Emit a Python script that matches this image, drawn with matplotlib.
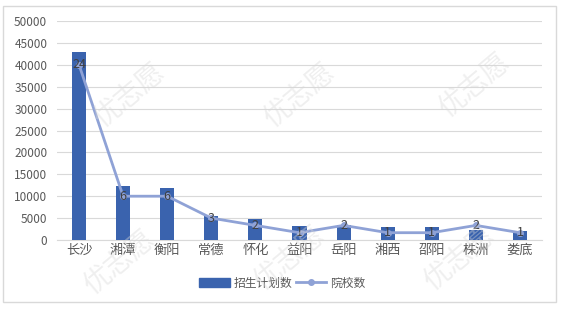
import matplotlib.pyplot as plt
from matplotlib.patches import Rectangle
from matplotlib.lines import Line2D
import numpy as np

plt.rcParams['font.family'] = ['Noto Sans CJK SC', 'DejaVu Sans']

cities = ['长沙', '湘潭', '衡阳', '常德', '怀化', '益阳', '岳阳', '湘西', '邵阳', '株洲', '娄底']
plan = [43000, 12300, 11900, 5500, 4800, 3200, 3500, 2900, 2900, 2300, 2000]
schools = [24, 6, 6, 3, 2, 1, 2, 1, 1, 2, 1]

W, H = 568, 313
fig = plt.figure(figsize=(W / 100, H / 100), dpi=100)

# outer frame
fig.patches.append(Rectangle((3 / W, (H - 302) / H), 553 / W, 296 / H,
                             transform=fig.transFigure, fill=False,
                             edgecolor='#D9D9D9', linewidth=1))

# faint watermark
for (wx, wy) in [(130, 95), (300, 95), (475, 85), (120, 262), (290, 258), (460, 258)]:
    fig.text(wx / W, 1 - wy / H, '优志愿', rotation=40, fontsize=20,
             color='#D8D8D8', alpha=0.4, ha='center', va='center', zorder=10)

ax = fig.add_axes([57 / W, 1 - 240 / H, 485 / W, 219 / H])
ax.patch.set_alpha(0)
x = np.arange(len(cities))
ax.bar(x, plan, width=0.32, color='#3A63AE', zorder=3)
ax.set_xlim(-0.5, len(cities) - 0.5)
ax.set_ylim(0, 50000)
ax.set_yticks(range(0, 50001, 5000))
ax.grid(axis='y', color='#D9D9D9', linewidth=0.8, zorder=0)
for s in ax.spines.values():
    s.set_visible(False)
ax.spines['bottom'].set_visible(True)
ax.spines['bottom'].set_color('#D9D9D9')
ax.tick_params(axis='both', length=0, colors='#595959')
ax.tick_params(axis='y', labelsize=8.5, pad=7)
ax.tick_params(axis='x', labelsize=9.5, pad=3)
ax.set_xticks(x)
ax.set_xticklabels(cities)

ax2 = ax.twinx()
ax2.set_ylim(0, 30)
ax2.plot(x, schools, color='#8FA2D6', linewidth=2, marker='o', markersize=4, zorder=4)
for xi, v in zip(x, schools):
    ax2.text(xi, v, str(v), ha='center', va='center', fontsize=9, color='#404040', zorder=5)
ax2.set_yticks([])
for s in ax2.spines.values():
    s.set_visible(False)

handles = [Rectangle((0, 0), 1, 1, color='#3A63AE'),
           Line2D([0], [0], color='#8FA2D6', linewidth=2, marker='o', markersize=4)]
fig.legend(handles, ['招生计划数', '院校数'], loc='center', bbox_to_anchor=(282 / W, 1 - 283 / H),
           ncol=2, frameon=False, fontsize=8.5, labelcolor='#595959',
           handlelength=2.6, handletextpad=0.3, columnspacing=0.3)

fig.savefig('out.png', dpi=100)
